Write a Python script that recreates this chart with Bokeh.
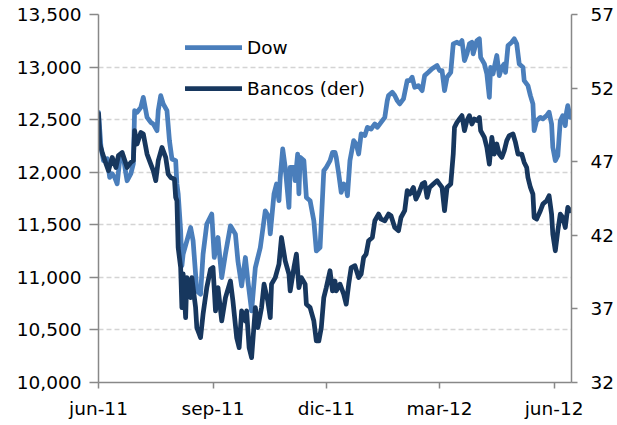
import pandas as pd
from bokeh.plotting import figure
from bokeh.models import (Range1d, LinearAxis, FixedTicker, NumeralTickFormatter,
                          Legend, LegendItem, ColumnDataSource, CustomJSTickFormatter)
from bokeh.embed import file_html
from bokeh.resources import INLINE

# ---------------- data ----------------
dow_dates = [
    "2011-06-01", "2011-06-03", "2011-06-05", "2011-06-08", "2011-06-10", "2011-06-12", "2011-06-14", "2011-06-16", "2011-06-18", "2011-06-21",
    "2011-06-23", "2011-06-24", "2011-06-27", "2011-06-29", "2011-06-30", "2011-07-02", "2011-07-05", "2011-07-07", "2011-07-10", "2011-07-13",
    "2011-07-15", "2011-07-18", "2011-07-19", "2011-07-21", "2011-07-23", "2011-07-26", "2011-07-28", "2011-07-30", "2011-08-02", "2011-08-03",
    "2011-08-04", "2011-08-06", "2011-08-07", "2011-08-08", "2011-08-11", "2011-08-14", "2011-08-16", "2011-08-19", "2011-08-22", "2011-08-24",
    "2011-08-27", "2011-08-31", "2011-09-02", "2011-09-05", "2011-09-08", "2011-09-11", "2011-09-15", "2011-09-19", "2011-09-21", "2011-09-24",
    "2011-09-27", "2011-09-29", "2011-10-02", "2011-10-05", "2011-10-09", "2011-10-13", "2011-10-16", "2011-10-17", "2011-10-20", "2011-10-22",
    "2011-10-24", "2011-10-25", "2011-10-27", "2011-10-29", "2011-11-01", "2011-11-02", "2011-11-05", "2011-11-06", "2011-11-08", "2011-11-09",
    "2011-11-10", "2011-11-13", "2011-11-15", "2011-11-18", "2011-11-21", "2011-11-23", "2011-11-26", "2011-11-29", "2011-12-01", "2011-12-04",
    "2011-12-06", "2011-12-08", "2011-12-09", "2011-12-11", "2011-12-13", "2011-12-15", "2011-12-17", "2011-12-18", "2011-12-20", "2011-12-23",
    "2011-12-25", "2011-12-27", "2011-12-29", "2012-01-01", "2012-01-03", "2012-01-06", "2012-01-09", "2012-01-11", "2012-01-14", "2012-01-17",
    "2012-01-19", "2012-01-20", "2012-01-23", "2012-01-25", "2012-01-27", "2012-01-29", "2012-02-01", "2012-02-04", "2012-02-06", "2012-02-08",
    "2012-02-10", "2012-02-13", "2012-02-16", "2012-02-18", "2012-02-21", "2012-02-24", "2012-02-28", "2012-03-01", "2012-03-03", "2012-03-05",
    "2012-03-07", "2012-03-10", "2012-03-12", "2012-03-15", "2012-03-17", "2012-03-19", "2012-03-21", "2012-03-23", "2012-03-25", "2012-03-27",
    "2012-03-28", "2012-03-31", "2012-04-02", "2012-04-03", "2012-04-06", "2012-04-08", "2012-04-10", "2012-04-11", "2012-04-13", "2012-04-14",
    "2012-04-16", "2012-04-18", "2012-04-20", "2012-04-22", "2012-04-23", "2012-04-25", "2012-04-28", "2012-04-30", "2012-05-02", "2012-05-04",
    "2012-05-07", "2012-05-08", "2012-05-11", "2012-05-13", "2012-05-15", "2012-05-16", "2012-05-18", "2012-05-21", "2012-05-23", "2012-05-26",
    "2012-05-28", "2012-05-30", "2012-05-31", "2012-06-02", "2012-06-04", "2012-06-06", "2012-06-08", "2012-06-10", "2012-06-11", "2012-06-12",
    "2012-06-14",
]
dow_values = [
    12570, 12236, 12110, 12129, 11950, 11986, 11950, 11890, 12110, 12141,
    11986, 11919, 11986, 12081, 12586, 12570, 12617, 12712, 12522, 12474,
    12459, 12395, 12586, 12729, 12650, 12586, 12300, 12126, 12110, 11888,
    11795, 11443, 11110, 11221, 11348, 11474, 11348, 10871, 10840, 11221,
    11507, 11602, 11189, 11379, 10998, 11224, 11490, 11411, 11157, 10919,
    11189, 10967, 10681, 11093, 11284, 11633, 11570, 11414, 11795, 11888,
    11729, 11950, 12221, 12046, 11665, 12046, 12046, 11919, 12173, 11795,
    12141, 12110, 11760, 11729, 11538, 11252, 11284, 12014, 12046, 12110,
    12189, 12189, 12141, 11983, 11808, 11888, 11855, 11776, 12110, 12300,
    12269, 12173, 12364, 12348, 12427, 12411, 12459, 12427, 12474, 12522,
    12681, 12729, 12760, 12729, 12681, 12650, 12697, 12871, 12871, 12903,
    12808, 12824, 12776, 12919, 12950, 12983, 13014, 12967, 12967, 12776,
    12903, 12950, 13221, 13236, 13221, 13252, 13062, 13126, 13221, 13236,
    13126, 13252, 13269, 13093, 13030, 12935, 12712, 12998, 12935, 12998,
    13110, 12919, 12998, 13030, 12950, 13205, 13236, 13269, 13221, 13030,
    12998, 12871, 12824, 12729, 12650, 12395, 12490, 12522, 12507, 12538,
    12570, 12459, 12236, 12110, 12157, 12490, 12538, 12443, 12570, 12633,
    12522,
]

bancos_dates = [
    "2011-06-01", "2011-06-02", "2011-06-04", "2011-06-07", "2011-06-09", "2011-06-12", "2011-06-15", "2011-06-17", "2011-06-20", "2011-06-24",
    "2011-06-27", "2011-06-29", "2011-06-30", "2011-07-02", "2011-07-05", "2011-07-07", "2011-07-10", "2011-07-13", "2011-07-15", "2011-07-17",
    "2011-07-19", "2011-07-22", "2011-07-25", "2011-07-27", "2011-07-29", "2011-08-01", "2011-08-02", "2011-08-03", "2011-08-04", "2011-08-06",
    "2011-08-07", "2011-08-08", "2011-08-10", "2011-08-11", "2011-08-14", "2011-08-15", "2011-08-18", "2011-08-19", "2011-08-22", "2011-08-24",
    "2011-08-27", "2011-08-30", "2011-09-01", "2011-09-03", "2011-09-05", "2011-09-08", "2011-09-11", "2011-09-15", "2011-09-17", "2011-09-20",
    "2011-09-22", "2011-09-24", "2011-09-27", "2011-09-28", "2011-09-30", "2011-10-02", "2011-10-05", "2011-10-07", "2011-10-10", "2011-10-12",
    "2011-10-15", "2011-10-17", "2011-10-18", "2011-10-21", "2011-10-24", "2011-10-26", "2011-10-29", "2011-11-01", "2011-11-02", "2011-11-05",
    "2011-11-07", "2011-11-09", "2011-11-11", "2011-11-14", "2011-11-15", "2011-11-18", "2011-11-21", "2011-11-23", "2011-11-25", "2011-11-27",
    "2011-11-29", "2011-12-01", "2011-12-04", "2011-12-06", "2011-12-08", "2011-12-09", "2011-12-12", "2011-12-15", "2011-12-17", "2011-12-19",
    "2011-12-21", "2011-12-24", "2011-12-27", "2011-12-29", "2011-12-31", "2012-01-02", "2012-01-04", "2012-01-07", "2012-01-09", "2012-01-12",
    "2012-01-14", "2012-01-17", "2012-01-20", "2012-01-22", "2012-01-25", "2012-01-28", "2012-01-30", "2012-02-02", "2012-02-04", "2012-02-06",
    "2012-02-09", "2012-02-11", "2012-02-13", "2012-02-16", "2012-02-18", "2012-02-20", "2012-02-22", "2012-02-25", "2012-02-28", "2012-03-01",
    "2012-03-03", "2012-03-05", "2012-03-07", "2012-03-10", "2012-03-12", "2012-03-13", "2012-03-15", "2012-03-17", "2012-03-19", "2012-03-21",
    "2012-03-23", "2012-03-25", "2012-03-27", "2012-03-29", "2012-03-31", "2012-04-02", "2012-04-03", "2012-04-06", "2012-04-08", "2012-04-10",
    "2012-04-12", "2012-04-14", "2012-04-16", "2012-04-18", "2012-04-20", "2012-04-22", "2012-04-24", "2012-04-26", "2012-04-29", "2012-05-01",
    "2012-05-03", "2012-05-06", "2012-05-08", "2012-05-10", "2012-05-11", "2012-05-13", "2012-05-15", "2012-05-16", "2012-05-18", "2012-05-21",
    "2012-05-23", "2012-05-26", "2012-05-28", "2012-05-30", "2012-05-31", "2012-06-02", "2012-06-04", "2012-06-06", "2012-06-08", "2012-06-10",
    "2012-06-12", "2012-06-14",
]
bancos_values = [
    50.27, 48.22, 47.63, 46.86, 46.39, 47.29, 46.61, 47.41, 47.63, 46.61,
    46.95, 47.07, 49.11, 48.20, 48.99, 48.88, 47.52, 46.84, 46.39, 45.71,
    47.07, 47.97, 47.29, 46.16, 45.93, 45.82, 44.57, 44.35, 41.17, 39.81,
    37.09, 39.38, 36.41, 39.13, 37.77, 39.13, 37.09, 35.73, 35.05, 36.64,
    38.45, 39.70, 39.81, 36.86, 38.45, 36.18, 37.77, 38.90, 37.54, 35.05,
    34.37, 36.86, 36.18, 36.86, 34.37, 33.69, 37.09, 35.73, 37.09, 38.68,
    37.54, 36.41, 38.68, 39.13, 40.04, 41.85, 40.27, 39.36, 38.22, 39.81,
    40.72, 38.45, 39.13, 38.68, 37.32, 37.09, 36.18, 34.82, 34.82, 35.73,
    37.77, 38.45, 39.59, 38.22, 38.90, 38.22, 38.68, 38.00, 37.32, 38.68,
    39.81, 39.93, 39.13, 39.36, 40.49, 40.72, 41.63, 41.85, 42.99, 43.44,
    43.10, 42.99, 43.44, 43.33, 42.53, 42.31, 43.21, 43.67, 45.03, 44.80,
    45.25, 44.46, 44.80, 45.48, 45.59, 44.57, 45.25, 45.48, 45.71, 45.48,
    45.25, 43.67, 45.25, 45.48, 47.52, 49.33, 49.67, 49.90, 50.13, 49.11,
    49.79, 50.13, 49.56, 49.90, 49.79, 50.01, 49.11, 48.65, 47.97, 46.84,
    48.65, 47.52, 48.20, 47.52, 47.29, 47.75, 48.43, 48.77, 48.88, 48.31,
    47.52, 47.52, 46.95, 46.61, 45.93, 45.25, 44.80, 43.21, 43.10, 43.67,
    44.12, 44.35, 44.69, 43.44, 42.08, 40.95, 42.31, 43.44, 43.21, 42.53,
    43.89, 43.67,
]

x_tick_dates = ["2011-06-01", "2011-09-01", "2011-12-01", "2012-03-01", "2012-06-01"]
x_tick_labels = ["jun-11", "sep-11", "dic-11", "mar-12", "jun-12"]
left_ticks = [10000, 10500, 11000, 11500, 12000, 12500, 13000, 13500]
right_ticks = [32, 37, 42, 47, 52, 57]
series_names = ["Dow", "Bancos (der)"]

# ---------------- styling ----------------
DOW_COLOR = "#4A7EBB"
BANCOS_COLOR = "#17375E"
AXIS_COLOR = "#888888"
GRID_COLOR = "#D4D4D4"
FONT = "DejaVu Sans"
FONT_SIZE = "18.5px"

x_start = pd.Timestamp("2011-06-01")
x_end = pd.Timestamp("2012-06-15")

p = figure(
    frame_width=473, frame_height=368,
    x_axis_type="datetime",
    x_range=Range1d(start=x_start, end=x_end),
    y_range=Range1d(start=10000, end=13500),
    output_backend="svg", toolbar_location=None,
    min_border_left=98, min_border_right=42, min_border_top=14, min_border_bottom=35,
)
p.outline_line_color = None
p.background_fill_color = "white"
p.border_fill_color = "white"

p.extra_y_ranges = {"right": Range1d(start=32, end=57)}

dow_src = ColumnDataSource(dict(x=pd.to_datetime(dow_dates), y=dow_values))
bancos_src = ColumnDataSource(dict(x=pd.to_datetime(bancos_dates), y=bancos_values))

r_dow = p.line("x", "y", source=dow_src, line_color=DOW_COLOR, line_width=4.75,
               line_join="round", line_cap="round")
r_bancos = p.line("x", "y", source=bancos_src, line_color=BANCOS_COLOR, line_width=4.75,
                  line_join="round", line_cap="round", y_range_name="right")

# ---------------- axes ----------------
tick_ms = [pd.Timestamp(d).timestamp() * 1000.0 for d in x_tick_dates]
xaxis = p.xaxis[0]
xaxis.ticker = FixedTicker(ticks=tick_ms)
xaxis.formatter = CustomJSTickFormatter(
    args=dict(tick_values=tick_ms, tick_labels=x_tick_labels),
    code="""
    for (let i = 0; i < tick_values.length; i++) {
        if (Math.abs(tick_values[i] - tick) < 1000) { return tick_labels[i]; }
    }
    return "";
""")

yaxis = p.yaxis[0]
yaxis.ticker = FixedTicker(ticks=left_ticks)
yaxis.formatter = NumeralTickFormatter(format="0,0")

raxis = LinearAxis(y_range_name="right", ticker=FixedTicker(ticks=right_ticks))
p.add_layout(raxis, "right")

for ax in (xaxis, yaxis, raxis):
    ax.axis_line_color = AXIS_COLOR
    ax.axis_line_width = 1.5
    ax.major_tick_line_color = AXIS_COLOR
    ax.major_tick_line_width = 1.5
    ax.major_tick_in = 0
    ax.minor_tick_line_color = None
    ax.major_label_text_font = FONT
    ax.major_label_text_font_size = FONT_SIZE
    ax.major_label_text_color = "#000000"

xaxis.major_tick_out = 6
xaxis.major_label_standoff = 9
yaxis.major_tick_out = 9
yaxis.major_label_standoff = 8
raxis.major_tick_out = 6
raxis.major_label_standoff = 13

# ---------------- grid ----------------
p.xgrid.visible = False
p.ygrid.ticker = FixedTicker(ticks=left_ticks)
p.ygrid.grid_line_color = GRID_COLOR
p.ygrid.grid_line_width = 1.5
p.ygrid.grid_line_dash = "5 3"

# ---------------- legend ----------------
legend = Legend(
    items=[LegendItem(label=series_names[0], renderers=[r_dow]),
           LegendItem(label=series_names[1], renderers=[r_bancos])],
    location=(87, 283),
    orientation="vertical",
    border_line_color=None,
    background_fill_alpha=0,
    padding=0, margin=0,
    glyph_width=57, glyph_height=22,
    label_height=22, spacing=19,
    label_standoff=5,
    label_text_font=FONT,
    label_text_font_size=FONT_SIZE,
    label_text_color="#000000",
)
p.add_layout(legend)

open("out.html", "w").write(file_html(p, INLINE))
